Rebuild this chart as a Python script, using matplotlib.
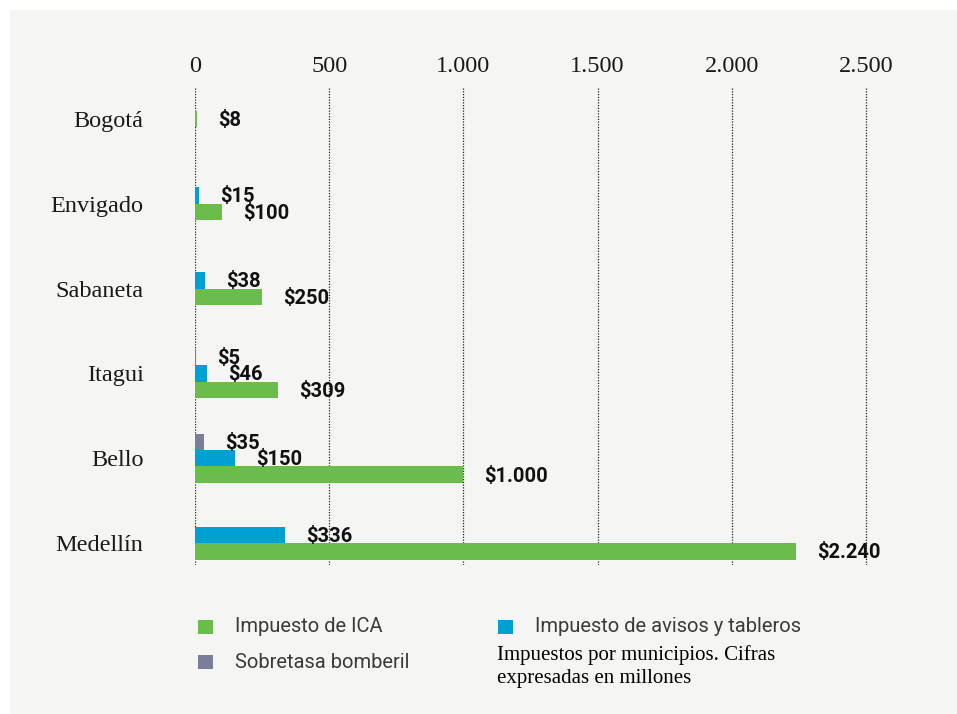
import matplotlib
matplotlib.use("Agg")
import matplotlib.pyplot as plt
from matplotlib.patches import Rectangle

categories = ["Bogotá", "Envigado", "Sabaneta", "Itagui", "Bello", "Medellín"]
ica = [8, 100, 250, 309, 1000, 2240]
avisos = [0, 15, 38, 46, 150, 336]
bomberil = [0, 0, 0, 5, 35, 0]
xticks = [0, 500, 1000, 1500, 2000, 2500]
xtick_labels = ["0", "500", "1.000", "1.500", "2.000", "2.500"]

c_ica = "#6abd4a"
c_av = "#00a0d2"
c_bo = "#7a7e98"
bg = "#f5f5f3"

W, H = 957, 714
fig = plt.figure(figsize=(W / 100, H / 100), dpi=100)
fig.patch.set_facecolor("white")
bgrect = Rectangle((10 / W, 0), 1 - 10 / W, 1 - 10 / H, transform=fig.transFigure,
                   facecolor=bg, edgecolor="none")
bgrect.set_zorder(-10)
fig.patches.append(bgrect)

ax_left, ax_right = 195, 195 + 2700 * 671 / 2500
ax_top, ax_bot = 88, 565
ax = fig.add_axes([ax_left / W, 1 - ax_bot / H, (ax_right - ax_left) / W, (ax_bot - ax_top) / H])
ax.set_zorder(5)
ax.set_facecolor("none")
ax.set_xlim(0, 2700)
ax.set_ylim(5 + (565 - 543) / 85, -(119 - 88) / 85)

bh = 16.5 / 85
series = [(bomberil, c_bo), (avisos, c_av), (ica, c_ica)]
for i, cat in enumerate(categories):
    present = [(s[i], c) for s, c in series if s[i] > 0]
    n = len(present)
    for k, (v, c) in enumerate(present):
        y = i + (k - (n - 1) / 2) * bh
        ax.barh(y, v, height=bh, color=c, left=0, zorder=2)
        lab = "$" + f"{v:,}".replace(",", ".")
        ax.annotate(lab, (v, y), xytext=(15, -1), textcoords="offset points",
                    ha="left", va="center", fontsize=14.5, fontweight="bold",
                    family="Roboto", color="#111111", zorder=3)

ax.set_yticks(range(len(categories)))
ax.set_yticklabels(categories, family="Liberation Serif", fontsize=17.5, color="#1a1a1a")
ax.tick_params(axis="y", length=0, pad=37)
ax.xaxis.tick_top()
ax.set_xticks(xticks)
ax.set_xticklabels(xtick_labels, family="Liberation Serif", fontsize=17.5, color="#1a1a1a")
ax.tick_params(axis="x", length=0, pad=8)
for s in ax.spines.values():
    s.set_visible(False)
for t in xticks:
    ax.axvline(t, color="#222222", lw=0.9, ls=(0, (1, 1.2)), zorder=1)

def fx(px):
    return px / W

def fy(py):
    return 1 - py / H

legend_items = [("Impuesto de ICA", c_ica, 198, 627), ("Sobretasa bomberil", c_bo, 198, 662),
                ("Impuesto de avisos y tableros", c_av, 498, 627)]
for txt, col, x, y in legend_items:
    r = Rectangle((fx(x), fy(y + 7)), 15 / W, 14 / H, transform=fig.transFigure,
                  facecolor=col, edgecolor="none")
    r.set_zorder(2)
    fig.patches.append(r)
    fig.text(fx(x + 37), fy(y), txt, ha="left", va="center", fontsize=14.5,
             family="Roboto", fontweight="normal", color="#3a3a3a")

fig.text(fx(497), fy(655), "Impuestos por municipios. Cifras", ha="left", va="center",
         fontsize=15, family="Liberation Serif", color="#000000")
fig.text(fx(497), fy(678), "expresadas en millones", ha="left", va="center",
         fontsize=15, family="Liberation Serif", color="#000000")

fig.savefig("out.png", dpi=100, facecolor=fig.get_facecolor())
